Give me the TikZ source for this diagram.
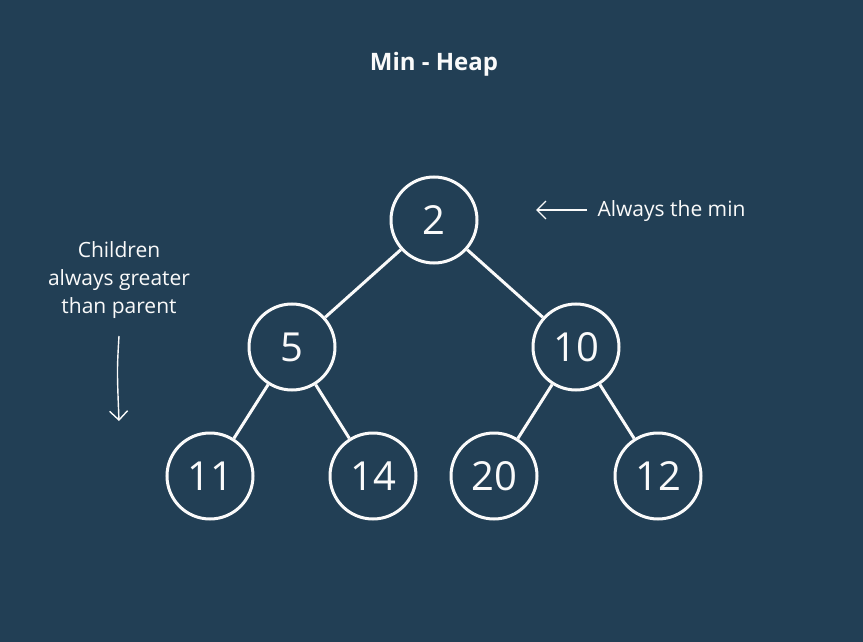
\documentclass[tikz,border=0pt]{standalone}
\usepackage{fontspec}
\setmainfont{Open Sans}
\usetikzlibrary{positioning, arrows.meta}
\definecolor{heapbg}{RGB}{34,63,85}
\definecolor{heapfg}{RGB}{250,250,250}

\begin{document}
\begin{tikzpicture}[
    x=1pt, y=-1pt,
    heapnode/.style={circle, draw=heapfg, line width=3pt, minimum size=86pt,
        inner sep=0pt, text=heapfg, font=\fontsize{40}{40}\selectfont},
    heapedge/.style={draw=heapfg, line width=3pt},
    note/.style={text=heapfg, align=center, font=\fontsize{21}{28}\selectfont},
    notearrow/.style={draw=heapfg, line width=1.4pt,
        -{Straight Barb[length=9pt, width=18pt, line width=1.4pt]}}
]
% Background
\fill[heapbg] (0,0) rectangle (863,642);

% Title
\node[text=heapfg, font=\fontsize{24}{24}\selectfont\bfseries] (title) at (434,64) {Min - Heap};

% Heap nodes
\node[heapnode] (root) at (434,220) {2};
\node[heapnode] (n5) at (292,347) {5};
\node[heapnode] (n10) at (576,347) {10};
\node[heapnode] (n11) at (210,476) {11};
\node[heapnode] (n14) at (373,476) {14};
\node[heapnode] (n20) at (494,476) {20};
\node[heapnode] (n12) at (658,476) {12};

% Edges
\draw[heapedge] (root) -- (n5);
\draw[heapedge] (root) -- (n10);
\draw[heapedge] (n5) -- (n11);
\draw[heapedge] (n5) -- (n14);
\draw[heapedge] (n10) -- (n20);
\draw[heapedge] (n10) -- (n12);

% Annotations
\node[note, anchor=west] (minnote) at (594,211) {Always the min};
\coordinate (minend) at (536,210);
\draw[notearrow] (minnote.west) ++(-7,-1) coordinate (minstart) -- (minend);

\node[note] (childnote) at (119,280) {Children\\always greater\\than parent};
\coordinate (childtop) at (119,336);
\coordinate (childend) at (119,421);
\draw[notearrow] (childtop) .. controls (117,370) .. (childend);

\end{tikzpicture}
\end{document}
